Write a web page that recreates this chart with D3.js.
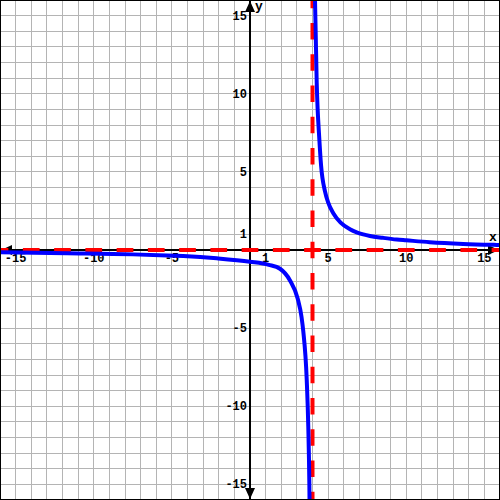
<!DOCTYPE html>
<html>
<head>
<meta charset="utf-8">
<script src="https://cdn.jsdelivr.net/npm/d3@7"></script>
<style>
  html, body { margin: 0; padding: 0; background: #fff; }
  svg { display: block; }
</style>
</head>
<body>
<svg id="chart" width="500" height="500"></svg>
<script>
// ---- data ----
const leftX  = [-16, -11.7, -7.5, -5.3, -4.27, -2.13, 0, 1.2, 1.92, 2.56, 3.05, 3.3, 3.41, 3.63, 3.73, 3.8, 3.81];
const leftY  = [-0.15, -0.21, -0.28, -0.35, -0.39, -0.53, -0.75, -0.95, -1.2, -1.95, -3.1, -4.3, -5.2, -8.3, -11.3, -15.1, -16];
const rightX = [4.16, 4.27, 4.44, 4.55, 4.8, 5.0, 5.33, 5.8, 6.4, 6.83, 7.25, 7.68, 8.5, 9.39, 10, 11.5, 13.65, 15.6, 16];
const rightY = [16, 10.7, 7.04, 5.4, 3.75, 3.05, 2.35, 1.75, 1.33, 1.13, 1.0, 0.9, 0.78, 0.67, 0.62, 0.5, 0.39, 0.33, 0.32];
const xTicks = [-15, -10, -5, 1, 5, 10, 15];
const yTicks = [-15, -10, -5, 1, 5, 10, 15];
const gridValues = d3.range(-16, 17, 1);
const vAsymX = 4;
const hAsymY = 0;
const domainMin = -16, domainMax = 16;

// ---- drawing ----
const W = 500, H = 500;
const svg = d3.select("#chart");
const x = d3.scaleLinear().domain([domainMin, domainMax]).range([0, W]);
const y = d3.scaleLinear().domain([domainMin, domainMax]).range([H, 0]);

svg.append("rect").attr("width", W).attr("height", H).attr("fill", "#fff");

// grid
const grid = svg.append("g").attr("stroke", "#b4b4b4").attr("stroke-width", 1).attr("shape-rendering", "crispEdges");
grid.selectAll("line.v").data(gridValues).join("line").attr("class", "v")
  .attr("x1", d => x(d)).attr("x2", d => x(d)).attr("y1", 0).attr("y2", H);
grid.selectAll("line.h").data(gridValues).join("line").attr("class", "h")
  .attr("y1", d => y(d)).attr("y2", d => y(d)).attr("x1", 0).attr("x2", W);

// axes
const ax = svg.append("g").attr("stroke", "#000").attr("stroke-width", 2);
ax.append("line").attr("x1", x(domainMin)).attr("x2", x(domainMax)).attr("y1", y(0)).attr("y2", y(0));
ax.append("line").attr("x1", x(0)).attr("x2", x(0)).attr("y1", y(domainMin)).attr("y2", y(domainMax));

// arrowheads
const ah = svg.append("g").attr("fill", "#000");
const cx = x(0), cy = y(0);
ah.append("path").attr("d", `M${cx},${y(domainMax)+1} L${cx-5},${y(domainMax)+12} L${cx+5},${y(domainMax)+12} Z`);
ah.append("path").attr("d", `M${cx},${y(domainMin)-1} L${cx-5},${y(domainMin)-12} L${cx+5},${y(domainMin)-12} Z`);
ah.append("path").attr("d", `M${x(domainMax)-1},${cy} L${x(domainMax)-12},${cy-5} L${x(domainMax)-12},${cy+5} Z`);
ah.append("path").attr("d", `M${x(domainMin)+1},${cy} L${x(domainMin)+12},${cy-5} L${x(domainMin)+12},${cy+5} Z`);

// tick labels
const font = "'Liberation Mono', 'Courier New', monospace";
const lab = svg.append("g").attr("font-family", font).attr("font-weight", "bold").attr("font-size", 12).attr("fill", "#000");
lab.selectAll("text.xt").data(xTicks).join("text").attr("class", "xt")
  .attr("x", d => x(d)).attr("y", y(0) + 12).attr("text-anchor", "middle").text(d => d);
lab.selectAll("text.yt").data(yTicks).join("text").attr("class", "yt")
  .attr("x", x(0) - 3).attr("y", d => y(d) + 4).attr("text-anchor", "end").text(d => d);
lab.append("text").attr("x", W - 7).attr("y", y(0) - 9).attr("text-anchor", "middle").attr("font-size", 13).text("x");
lab.append("text").attr("x", x(0) + 9).attr("y", 10).attr("text-anchor", "middle").attr("font-size", 13).text("y");

// asymptotes (red dashed)
const dash = x(1.07) - x(0);
const period = x(2) - x(0);
const asy = svg.append("g").attr("stroke", "#ff0000").attr("stroke-width", 4)
  .attr("stroke-dasharray", `${dash} ${period - dash}`).attr("stroke-dashoffset", dash / 2);
asy.append("line").attr("x1", x(domainMin)).attr("x2", x(domainMax)).attr("y1", y(hAsymY)).attr("y2", y(hAsymY));
asy.append("line").attr("x1", x(vAsymX)).attr("x2", x(vAsymX)).attr("y1", y(domainMin)).attr("y2", y(domainMax));

// curve
const line = d3.line().x(d => x(d[0])).y(d => y(d[1])).curve(d3.curveMonotoneX);
const branches = [d3.zip(leftX, leftY), d3.zip(rightX, rightY)];
svg.append("g").selectAll("path").data(branches).join("path")
  .attr("d", line).attr("fill", "none").attr("stroke", "#0000ff").attr("stroke-width", 4);

// border
svg.append("rect").attr("x", 0.5).attr("y", 0.5).attr("width", W - 1).attr("height", H - 1)
  .attr("fill", "none").attr("stroke", "#000").attr("stroke-width", 1);
</script>
</body>
</html>
